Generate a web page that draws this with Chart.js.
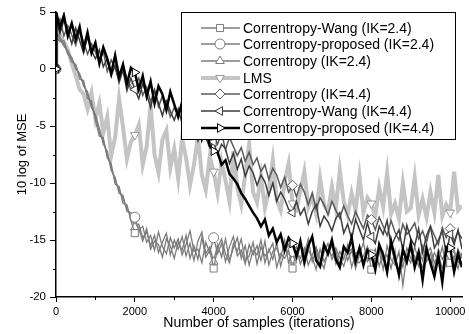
<!DOCTYPE html>
<html>
<head>
<meta charset="utf-8">
<script src="https://cdn.jsdelivr.net/npm/chart.js@4/dist/chart.umd.min.js"></script>
<style>
  body { margin: 0; background: #fff; }
  canvas { display: block; }
</style>
</head>
<body>
<canvas id="mseChart" width="469" height="334"></canvas>
<script>
// iteration of each stored point (the first one is the initial value)
const samples = [0, 10,
  100, 200, 300, 400, 500, 600, 700, 800, 900, 1000,
  1100, 1200, 1300, 1400, 1500, 1600, 1700, 1800, 1900, 2000,
  2100, 2200, 2300, 2400, 2500, 2600, 2700, 2800, 2900, 3000,
  3100, 3200, 3300, 3400, 3500, 3600, 3700, 3800, 3900, 4000,
  4100, 4200, 4300, 4400, 4500, 4600, 4700, 4800, 4900, 5000,
  5100, 5200, 5300, 5400, 5500, 5600, 5700, 5800, 5900, 6000,
  6100, 6200, 6300, 6400, 6500, 6600, 6700, 6800, 6900, 7000,
  7100, 7200, 7300, 7400, 7500, 7600, 7700, 7800, 7900, 8000,
  8100, 8200, 8300, 8400, 8500, 8600, 8700, 8800, 8900, 9000,
  9100, 9200, 9300, 9400, 9500, 9600, 9700, 9800, 9900, 10000,
  10100, 10200, 10300];

// x axis ticks (labelled every 2000) and y axis ticks (labelled every 5)
const xTicks = [0, 1000, 2000, 3000, 4000, 5000, 6000, 7000, 8000, 9000, 10000];
const xLabelled = [0, 2000, 4000, 6000, 8000, 10000];
const yTicks = [-20, -17.5, -15, -12.5, -10, -7.5, -5, -2.5, 0, 2.5, 5];
const yLabelled = [-20, -15, -10, -5, 0, 5];

// markers are drawn every 2000 samples
const markerAt = [0, 2000, 4000, 6000, 8000, 10000];

const wang24 = [0, 2.8,
  2.4, 2.5, 1.4, 0.6, 0.4, -0.9, -1.0, -2.6, -2.8, -4.5,
  -5.9, -6.0, -7.8, -8.3, -10.1, -10.3, -11.8, -11.9, -13.3, -14.4,
  -14.0, -15.1, -14.0, -15.8, -15.1, -15.4, -16.5, -14.9, -15.5, -16.6,
  -15.2, -15.9, -14.6, -16.6, -15.5, -16.7, -14.8, -16.5, -15.9, -17.5,
  -15.7, -14.9, -16.2, -17.0, -15.3, -16.0, -14.9, -16.8, -16.4, -15.2,
  -17.1, -15.6, -16.4, -16.0, -15.3, -17.4, -16.2, -16.6, -15.9, -17.5,
  -16.0, -16.6, -15.7, -17.2, -16.3, -15.6, -16.7, -17.5, -15.9, -16.4,
  -15.7, -16.6, -17.3, -16.1, -15.8, -16.9, -17.0, -16.4, -15.6, -17.6,
  -16.5, -16.0, -17.6, -15.5, -16.7, -17.2, -16.0, -19.0, -16.3, -17.0,
  -15.6, -16.8, -17.4, -16.1, -15.7, -17.0, -16.3, -17.5, -16.2, -17.0,
  -16.4, -17.5, -16.1];

const proposed24 = [0, 3.2,
  2.8, 2.2, 1.3, 1.0, 0.0, -0.4, -1.5, -2.0, -3.4, -4.0,
  -5.2, -6.6, -7.2, -8.9, -9.5, -10.9, -11.1, -12.5, -12.6, -13.0,
  -14.1, -13.8, -15.2, -14.6, -15.9, -14.3, -15.6, -16.2, -14.8, -15.7,
  -14.9, -16.3, -15.4, -14.2, -16.0, -15.8, -17.0, -15.2, -16.1, -14.8,
  -16.2, -15.3, -16.9, -15.6, -14.7, -16.4, -15.9, -17.1, -15.4, -16.3,
  -15.5, -16.8, -15.1, -17.2, -16.0, -15.7, -16.6, -15.0, -17.0, -16.0,
  -16.8, -15.4, -17.3, -15.9, -16.5, -17.6, -15.8, -16.9, -16.2, -15.5,
  -17.1, -16.0, -16.7, -15.4, -17.4, -16.2, -15.9, -17.2, -15.6, -16.3,
  -17.0, -15.7, -16.8, -16.3, -17.5, -15.9, -18.4, -16.6, -17.1, -15.8,
  -16.4, -17.3, -15.5, -16.9, -16.2, -17.6, -15.8, -16.7, -16.0, -16.4,
  -17.2, -15.8, -16.6];

const corr24 = [0, 3.0,
  2.6, 2.0, 1.6, 0.9, 0.3, -0.6, -1.2, -2.3, -3.1, -4.2,
  -5.6, -6.3, -7.5, -8.6, -9.8, -10.6, -11.4, -12.2, -12.9, -13.9,
  -13.6, -14.8, -14.3, -15.5, -14.6, -16.1, -15.2, -14.4, -16.3, -15.0,
  -15.8, -14.7, -16.4, -15.3, -16.8, -15.1, -14.3, -16.2, -15.6, -16.9,
  -15.4, -16.5, -14.9, -16.8, -15.7, -14.8, -16.6, -15.5, -17.2, -15.9,
  -16.3, -15.0, -17.0, -15.8, -16.7, -15.2, -17.3, -16.0, -15.4, -16.8,
  -15.6, -17.1, -16.2, -14.9, -16.9, -15.8, -17.4, -16.1, -15.3, -16.7,
  -16.0, -17.2, -15.5, -16.8, -15.9, -17.5, -16.3, -15.2, -16.9, -16.4,
  -15.8, -17.3, -16.1, -18.0, -15.6, -16.9, -16.2, -17.4, -15.7, -16.6,
  -17.1, -15.9, -16.8, -15.3, -17.2, -16.1, -16.9, -15.6, -17.3, -16.5,
  -15.9, -17.0, -16.3];

const lms = [0, 3.2,
  3.0, 2.4, 1.7, 0.5, -0.6, -1.8, -2.2, -3.5, -2.1, -4.4,
  -3.0, -5.6, -4.2, -7.6, -6.0, -2.6, -5.1, -7.9, -6.4, -5.8,
  -4.9, -8.4, -6.8, -3.2, -7.5, -9.1, -6.2, -5.4, -8.7, -7.0,
  -9.6, -6.1, -7.8, -10.2, -8.4, -5.9, -9.3, -10.6, -7.7, -9.0,
  -10.9, -8.1, -9.8, -11.6, -7.2, -10.4, -11.9, -9.3, -6.6, -10.8,
  -11.7, -9.4, -12.2, -10.6, -8.0, -11.5, -12.4, -9.9, -8.3, -11.8,
  -12.3, -10.7, -9.0, -12.1, -11.2, -12.7, -9.6, -11.9, -12.5, -10.3,
  -12.2, -8.9, -11.6, -12.8, -10.9, -12.4, -9.4, -12.6, -11.3, -11.8,
  -12.9, -10.4, -12.1, -9.1, -12.7, -11.8, -13.1, -10.0, -12.5, -12.2,
  -9.5, -12.8, -11.4, -13.0, -10.8, -12.6, -9.3, -12.9, -11.9, -12.6,
  -9.0, -12.4, -12.0];

const corr44 = [0, 3.9,
  4.4, 2.9, 3.8, 3.0, 2.1, 3.3, 2.4, 1.3, 2.2, 1.5,
  0.6, 1.6, -0.2, 0.8, 0.1, -1.0, 0.4, -0.9, -1.8, -1.4,
  -0.8, -2.3, -1.6, -2.9, -1.8, -3.3, -2.4, -3.0, -4.2, -3.4,
  -4.0, -3.2, -4.9, -4.3, -5.5, -4.4, -5.9, -5.3, -4.8, -5.8,
  -6.6, -5.6, -7.1, -6.0, -6.8, -7.6, -6.9, -8.1, -7.3, -8.4,
  -7.8, -9.0, -8.4, -9.7, -8.7, -9.3, -10.4, -9.5, -10.8, -10.2,
  -11.2, -10.1, -10.8, -11.9, -10.9, -12.3, -11.3, -11.9, -12.8, -11.6,
  -12.4, -13.1, -12.0, -12.9, -13.6, -12.5, -13.3, -14.0, -12.8, -13.2,
  -14.1, -13.0, -13.8, -14.6, -13.3, -14.3, -15.0, -13.6, -14.5, -14.1,
  -13.5, -14.9, -14.2, -15.2, -13.8, -14.6, -15.4, -13.9, -14.8, -14.0,
  -15.1, -14.3, -14.9];

const wang44 = [0, 4.2,
  3.1, 4.3, 3.4, 2.2, 3.6, 2.5, 1.4, 2.8, 1.6, 0.9,
  1.7, 0.2, 0.9, -0.6, 0.3, -1.2, -0.1, -1.9, -0.8, -1.8,
  -2.6, -1.3, -2.2, -3.4, -1.9, -3.0, -4.1, -2.8, -3.7, -4.5,
  -3.5, -4.8, -5.6, -4.3, -5.2, -6.3, -5.0, -6.0, -6.9, -6.4,
  -7.5, -6.6, -7.0, -8.3, -7.4, -8.8, -7.9, -9.4, -8.5, -9.1,
  -10.2, -9.3, -9.9, -11.1, -10.0, -11.6, -10.8, -11.4, -12.3, -12.6,
  -11.6, -12.8, -12.2, -13.6, -12.5, -11.9, -13.8, -12.9, -13.4, -14.2,
  -13.1, -12.6, -14.4, -13.6, -14.9, -13.2, -14.1, -15.0, -13.5, -14.7,
  -15.3, -13.8, -14.5, -13.3, -15.6, -14.8, -14.1, -15.9, -13.7, -14.9,
  -15.5, -14.0, -16.1, -14.6, -13.8, -15.7, -15.0, -14.2, -16.2, -14.5,
  -15.4, -14.1, -15.8];

const proposed44 = [0, 4.9,
  3.6, 4.7, 2.9, 4.0, 2.6, 3.7, 1.8, 3.2, 1.4, 2.3,
  0.5, 1.9, 0.9, -0.4, 1.2, -0.7, 0.4, -1.3, 0.1, -0.3,
  -1.8, -0.6, -2.4, -1.1, -3.0, -1.5, -2.2, -3.6, -2.0, -3.1,
  -4.2, -2.9, -4.8, -3.7, -5.4, -4.3, -6.1, -5.0, -6.7, -7.2,
  -7.3, -8.4, -8.0, -9.2, -9.6, -10.1, -10.9, -11.4, -12.0, -12.6,
  -13.1, -13.8, -13.2, -14.6, -14.0, -15.2, -14.5, -15.9, -14.8, -15.3,
  -16.4, -15.1, -16.9, -15.5, -14.7, -16.8, -17.3, -15.4, -16.2, -15.0,
  -16.7, -17.4, -15.6, -16.1, -14.8, -16.9, -15.7, -17.2, -15.9, -16.3,
  -17.6, -15.4, -16.3, -17.8, -15.1, -16.6, -18.0, -15.8, -16.9, -15.3,
  -17.4, -16.1, -18.5, -15.8, -17.0, -18.2, -16.4, -18.7, -15.6, -15.7,
  -17.8, -16.2, -17.4];

const FONT = '"Liberation Sans", Arial, sans-serif';

function series(label, values, color, width, style, rotation, order) {
  return {
    label: label,
    data: values.map((v, i) => ({ x: samples[i], y: v })),
    borderColor: color,
    borderWidth: width,
    pointStyle: style,
    pointRotation: rotation,
    pointBorderColor: color === '#c4c4c4' ? '#9a9a9a' : color,
    pointBackgroundColor: '#fff',
    pointBorderWidth: 1,
    pointRadius: ctx => markerAt.includes(samples[ctx.dataIndex]) ? 5 : 0,
    pointHoverRadius: 0,
    tension: 0,
    clip: 0,
    order: order
  };
}

// legend box drawn inside the plot, plus the short minor ticks
const legendBox = {
  id: 'legendBox',
  afterDraw(chart) {
    const ctx = chart.ctx;
    const xs = chart.scales.x, ys = chart.scales.y;
    ctx.save();
    ctx.strokeStyle = '#000';
    ctx.lineWidth = 1;
    ctx.beginPath();
    xTicks.filter(v => !xLabelled.includes(v)).forEach(v => {
      const p = Math.round(xs.getPixelForValue(v)) + 0.5;
      ctx.moveTo(p, xs.top); ctx.lineTo(p, xs.top + 3);
    });
    yTicks.filter(v => !yLabelled.includes(v)).forEach(v => {
      const p = Math.round(ys.getPixelForValue(v)) + 0.5;
      ctx.moveTo(ys.right - 3, p); ctx.lineTo(ys.right, p);
    });
    ctx.stroke();

    ctx.fillStyle = '#fff';
    ctx.fillRect(181.5, 12.5, 274, 127);
    ctx.strokeRect(181.5, 12.5, 274, 127);
    ctx.font = '14px ' + FONT;
    ctx.textBaseline = 'middle';
    chart.data.datasets.forEach((ds, i) => {
      const y = Math.round(27.5 + i * 16.67);
      ctx.strokeStyle = ds.borderColor;
      ctx.lineWidth = ds.borderWidth;
      ctx.beginPath();
      ctx.moveTo(201, y); ctx.lineTo(240, y);
      ctx.stroke();
      ctx.fillStyle = '#fff';
      ctx.strokeStyle = ds.pointBorderColor;
      ctx.lineWidth = 1;
      Chart.helpers.drawPoint(ctx, { pointStyle: ds.pointStyle, rotation: ds.pointRotation, radius: 5, borderWidth: 1 }, 220, y);
      ctx.fillStyle = '#000';
      ctx.fillText(ds.label, 243, y + 1);
    });
    ctx.restore();
  }
};

new Chart(document.getElementById('mseChart'), {
  type: 'line',
  data: {
    datasets: [
      series('Correntropy-Wang (IK=2.4)', wang24, '#7c7c7c', 1.3, 'rect', 0, 4),
      series('Correntropy-proposed (IK=2.4)', proposed24, '#7c7c7c', 1.3, 'circle', 0, 4),
      series('Correntropy (IK=2.4)', corr24, '#7c7c7c', 1.3, 'triangle', 0, 4),
      series('LMS', lms, '#c4c4c4', 4, 'triangle', 180, 6),
      series('Correntropy (IK=4.4)', corr44, '#5a5a5a', 1.5, 'rectRot', 0, 3),
      series('Correntropy-Wang (IK=4.4)', wang44, '#3c3c3c', 1.5, 'triangle', 270, 2),
      series('Correntropy-proposed (IK=4.4)', proposed44, '#000000', 2.5, 'triangle', 90, 1)
    ]
  },
  options: {
    responsive: false,
    animation: false,
    devicePixelRatio: 1,
    layout: { padding: { top: 12, right: 7, bottom: 0, left: 0 } },
    plugins: { legend: { display: false }, tooltip: { enabled: false } },
    scales: {
      x: {
        type: 'linear',
        min: 0,
        max: 10300,
        afterBuildTicks: s => { s.ticks = xLabelled.map(v => ({ value: v })); },
        ticks: {
          autoSkip: false,
          maxRotation: 0,
          padding: 3,
          color: '#000',
          font: { size: 11, family: FONT },
          callback: v => String(v)
        },
        grid: {
          drawOnChartArea: false,
          tickLength: 5,
          tickWidth: 1,
          tickColor: '#000'
        },
        border: { color: '#000', width: 1.5 },
        title: {
          display: true,
          text: 'Number of samples (iterations)',
          color: '#000',
          font: { size: 14, family: FONT },
          padding: { top: 0, bottom: 2 }
        },
        afterFit: s => { s.height = 37; }
      },
      y: {
        min: -20,
        max: 5,
        afterBuildTicks: s => { s.ticks = yLabelled.map(v => ({ value: v })); },
        ticks: {
          autoSkip: false,
          padding: 4,
          color: '#000',
          font: { size: 11.5, family: FONT },
          callback: v => String(v)
        },
        grid: {
          drawOnChartArea: false,
          tickLength: 6,
          tickWidth: 1,
          tickColor: '#000'
        },
        border: { color: '#000', width: 1.5 },
        title: {
          display: true,
          text: '10 log of MSE',
          color: '#000',
          font: { size: 13, family: FONT },
          padding: { top: 15, bottom: 0 }
        },
        afterFit: s => { s.width = 56; }
      }
    }
  },
  plugins: [legendBox]
});
</script>
</body>
</html>
